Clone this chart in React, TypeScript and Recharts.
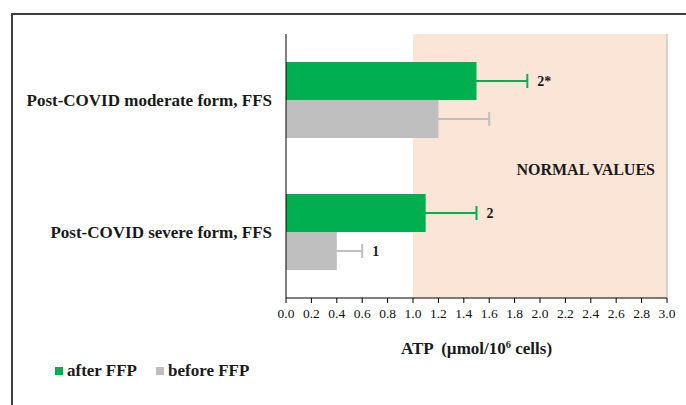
import {
  BarChart,
  Bar,
  XAxis,
  YAxis,
  ErrorBar,
  ReferenceArea,
  ReferenceLine,
  LabelList,
  Legend,
} from "recharts";

// values
const categories = ["Post-COVID moderate form, FFS", "Post-COVID severe form, FFS"];
const afterFfp = [1.5, 1.1];
const afterErr = [0.4, 0.4];
const beforeFfp = [1.2, 0.4];
const beforeErr = [0.4, 0.2];
const afterNotes = ["2*", "2"];
const beforeNotes = ["", "1"];
const xTicks = [0, 0.2, 0.4, 0.6, 0.8, 1, 1.2, 1.4, 1.6, 1.8, 2, 2.2, 2.4, 2.6, 2.8, 3];
const normalRange = [1, 3];

const GREEN = "#00b050";
const GREY = "#bfbfbf";
const SERIF = "'Liberation Serif', 'Times New Roman', serif";

// symmetric error bars; the lower half is hidden on the bar itself
const data = categories.map((name, i) => ({
  name,
  after: afterFfp[i],
  afterErr: afterErr[i],
  afterNote: afterNotes[i],
  before: beforeFfp[i],
  beforeErr: beforeErr[i],
  beforeNote: beforeNotes[i],
}));

const CategoryTick = ({ x, y, payload }: any) => (
  <text
    x={x}
    y={y}
    textAnchor="end"
    dominantBaseline="central"
    fontFamily={SERIF}
    fontSize={17}
    fontWeight="bold"
    fill="#1a1a1a"
  >
    {payload.value}
  </text>
);

// note sits just past the end of the error bar
const noteLabel = (values: number[], errs: number[]) => (props: any) => {
  const { x, y, width, height } = props.viewBox ?? props;
  const i = props.index;
  if (!props.value) return null;
  const end = x + (width * (values[i] + errs[i])) / values[i];
  return (
    <text
      x={end + 10}
      y={y + height / 2}
      dominantBaseline="central"
      fontFamily={SERIF}
      fontSize={14}
      fontWeight="bold"
      fill="#1a1a1a"
    >
      {props.value}
    </text>
  );
};

const AxisTitle = ({ viewBox }: any) => {
  const { x, y, width } = viewBox;
  return (
    <text
      x={x + width / 2}
      y={y + 56}
      textAnchor="middle"
      fontFamily={SERIF}
      fontSize={17}
      fontWeight="bold"
      fill="#1a1a1a"
      style={{ whiteSpace: "pre" }}
    >
      {"ATP  (µmol/10"}
      <tspan dy={-6} fontSize={10.5}>6</tspan>
      <tspan dy={6}>{" cells)"}</tspan>
    </text>
  );
};

const NormalLabel = ({ viewBox }: any) => {
  const { x, y, width, height } = viewBox;
  return (
    <text
      x={x + width - 12}
      y={y + height / 2 + 3}
      textAnchor="end"
      dominantBaseline="central"
      fontFamily={SERIF}
      fontSize={16}
      fontWeight="bold"
      fill="#1a1a1a"
    >
      NORMAL VALUES
    </text>
  );
};

const LegendContent = ({ payload }: any) => (
  <div style={{ display: "flex", gap: 19, fontFamily: SERIF, fontSize: 17, fontWeight: "bold", color: "#1a1a1a" }}>
    {(payload ?? []).map((p: any) => (
      <div key={p.value} style={{ display: "flex", alignItems: "center", gap: 4 }}>
        <span style={{ width: 8, height: 8, background: p.color, display: "inline-block" }} />
        <span>{p.value}</span>
      </div>
    ))}
  </div>
);

export default function App() {
  return (
    <div style={{ position: "absolute", left: 0, top: 0, width: 686, height: 405, background: "#fff", overflow: "hidden" }}>
      <div
        style={{
          position: "absolute",
          left: 11,
          top: 13,
          width: 700,
          height: 420,
          borderTop: "2px solid #3f3f3f",
          borderLeft: "2px solid #3f3f3f",
        }}
      />
      <BarChart
        width={686}
        height={405}
        data={data}
        layout="vertical"
        margin={{ top: 34, right: 19, bottom: 47, left: 0 }}
        barCategoryGap={28}
        barGap={0}
        style={{ position: "absolute", left: 0, top: 0 }}
      >
        <YAxis
          yAxisId="edge"
          type="number"
          domain={[0, 2]}
          ticks={[0, 1, 2]}
          allowDataOverflow
          width={0}
          tick={false}
          tickSize={5}
          axisLine={false}
          tickLine={{ stroke: "#000" }}
        />
        <YAxis
          type="category"
          dataKey="name"
          width={286}
          tickSize={6}
          tickMargin={8}
          tickLine={false}
          axisLine={{ stroke: "#000" }}
          tick={<CategoryTick />}
        />
        <XAxis
          type="number"
          domain={[0, 3]}
          ticks={xTicks}
          interval={0}
          height={60}
          tickSize={5}
          tickMargin={5}
          tickFormatter={(v: number) => v.toFixed(1)}
          axisLine={{ stroke: "#000" }}
          tickLine={{ stroke: "#000" }}
          tick={{ fontFamily: SERIF, fontSize: 13.5, fill: "#111" }}
          label={<AxisTitle />}
        />
        <ReferenceArea
          x1={normalRange[0]}
          x2={normalRange[1]}
          fill="#fbe5d6"
          fillOpacity={1}
          stroke="none"
          label={<NormalLabel />}
        />
        <ReferenceLine yAxisId="edge" y={2} stroke="#d4d4d4" strokeWidth={1.5} />
        <ReferenceLine x={3} stroke="#d0c8c2" strokeWidth={1.5} />
        <Bar dataKey="after" name="after FFP" fill={GREEN} isAnimationActive={false}>
          <ErrorBar dataKey="afterErr" direction="x" width={7} stroke={GREEN} strokeWidth={2} />
          <LabelList dataKey="afterNote" content={noteLabel(afterFfp, afterErr)} />
        </Bar>
        <Bar dataKey="before" name="before FFP" fill={GREY} isAnimationActive={false}>
          <ErrorBar dataKey="beforeErr" direction="x" width={7} stroke={GREY} strokeWidth={2} />
          <LabelList dataKey="beforeNote" content={noteLabel(beforeFfp, beforeErr)} />
        </Bar>
        <Legend
          layout="vertical"
          align="center"
          verticalAlign="middle"
          content={<LegendContent />}
          wrapperStyle={{ position: "absolute", left: 55, top: 361, width: 300, height: 20 }}
        />
      </BarChart>
    </div>
  );
}
